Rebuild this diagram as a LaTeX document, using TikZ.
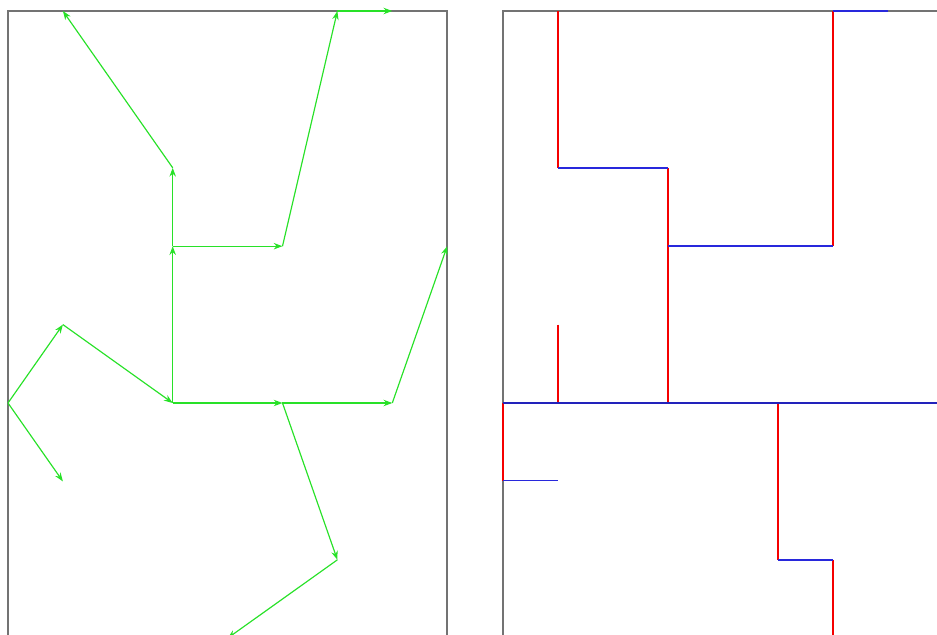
\documentclass[tikz,border=0pt]{standalone}
\usepackage{xcolor}
\usepackage{tikz}
\usetikzlibrary{arrows.meta}

\definecolor{arrowgreen}{RGB}{40,225,40}
\definecolor{wallred}{RGB}{245,0,0}
\definecolor{wallblue}{RGB}{40,40,220}
\definecolor{boxgray}{RGB}{115,115,115}

\tikzset{
  frame/.style={draw=boxgray, line width=1.3pt},
  flow/.style={draw=arrowgreen, line width=1pt,
               -{Stealth[length=7.5pt,width=5.5pt]}},
  vwall/.style={draw=wallred, line width=1.3pt},
  hwall/.style={draw=wallblue, line width=1.3pt},
  cut/.style={draw=wallblue!85!black, line width=2.4pt}
}

\begin{document}
\begin{tikzpicture}[x=1.647cm, y=-2.352cm]
  \useasboundingbox (-0.1457,-0.1403) rectangle (16.922,7.959);
  \clip (-0.1457,-0.1403) rectangle (16.922,7.959);

  % Left panel
  \draw[frame] (0,0) rectangle (8,8);
  \foreach \n/\x/\y in {p05/0/5,p14/1/4,p16/1/6,p35/3/5,p33/3/3,p32/3/2,
                        p10/1/0,p53/5/3,p60/6/0,p70/7/0,p55/5/5,p75/7/5,
                        p83/8/3,p67/6/7,p48/4/8} {
    \coordinate (\n) at (\x,\y);
  }
  \foreach \a/\b in {p05/p14,p05/p16,p14/p35,p35/p33,p33/p32,p32/p10,
                     p33/p53,p53/p60,p60/p70,p35/p55,p55/p75,p75/p83,
                     p55/p67,p67/p48} {
    \draw[flow] (\a) -- (\b);
  }

  % Right panel
  \begin{scope}[shift={(9.02,0)}, x=1.650cm]
    \draw[frame] (0,0) rectangle (8,8);
    \foreach \n/\x/\y in {q10/1/0,q12/1/2,q32/3/2,q33/3/3,q35/3/5,q60/6/0,
                          q63/6/3,q70/7/0,q14/1/4,q15/1/5,q05/0/5,q06/0/5.99,
                          q16/1/5.99,q55/5/5,q57/5/7,q67/6/7,q68/6/8,q85/8/5} {
      \coordinate (\n) at (\x,\y);
    }
    % vertical walls
    \foreach \a/\b in {q10/q12,q32/q35,q60/q63,q14/q15,q05/q06,q55/q57,q67/q68} {
      \draw[vwall] (\a) -- (\b);
    }
    % horizontal walls
    \foreach \a/\b in {q12/q32,q33/q63,q60/q70,q06/q16,q57/q67} {
      \draw[hwall] (\a) -- (\b);
    }
    \draw[cut] (q05) -- (q85);
  \end{scope}
\end{tikzpicture}
\end{document}
